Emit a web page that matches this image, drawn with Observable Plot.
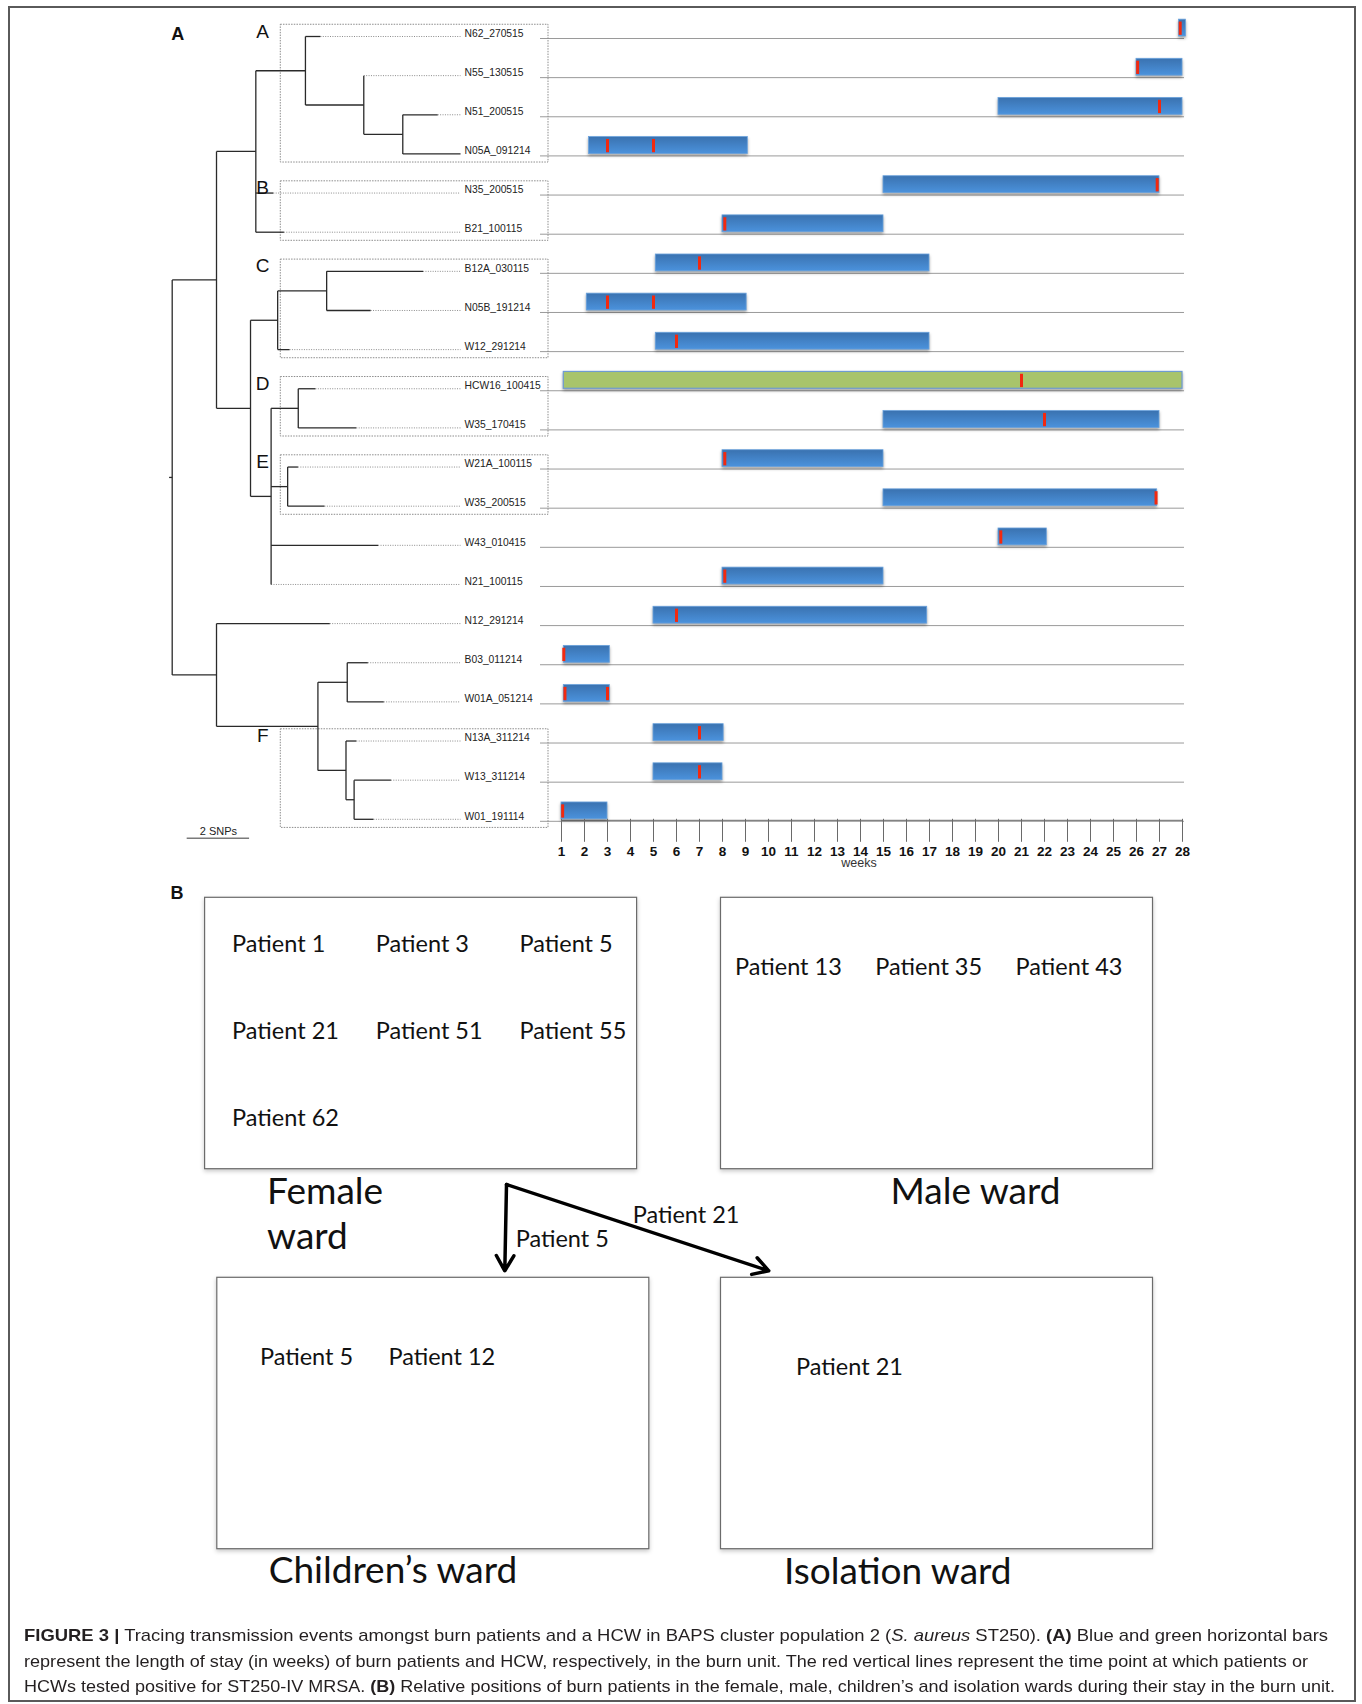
<!DOCTYPE html>
<html>
<head>
<meta charset="utf-8">
<script src="https://cdn.jsdelivr.net/npm/d3@7"></script>
<script src="https://cdn.jsdelivr.net/npm/@observablehq/plot@0.6"></script>
<style>
  body { margin: 0; background: #fff; }
  #fig { position: relative; width: 1362px; height: 1704px; background: #fff; overflow: hidden;
         font-family: "Liberation Sans", Arial, sans-serif; }
  .abs { position: absolute; left: 0; top: 0; }
  .plabel { position: absolute; font-weight: bold; font-size: 18px; line-height: 1; color: #111;
            transform: translate(-50%, -50%); }
  .cap { position: absolute; left: 24px; white-space: nowrap; font-size: 17px; line-height: 20px;
         color: #231f20; transform-origin: 0 50%; }
</style>
</head>
<body>
<div id="fig">
  <div id="frame" style="position:absolute;left:8px;top:6px;width:1348px;height:1696px;border:2px solid #5a5a5a;box-sizing:border-box;"></div>
  <div id="timeline" class="abs"></div>
  <div id="tree" class="abs"></div>
  <div id="wards" class="abs" style="top:860px"></div>
  <div class="plabel" style="left:177.7px;top:34.3px">A</div>
  <div class="plabel" style="left:177px;top:893px">B</div>
</div>
<script>
// ---------------- DATA (panel A) ----------------
const strains = ["N62_270515","N55_130515","N51_200515","N05A_091214","N35_200515","B21_100115",
  "B12A_030115","N05B_191214","W12_291214","HCW16_100415","W35_170415","W21A_100115","W35_200515",
  "W43_010415","N21_100115","N12_291214","B03_011214","W01A_051214","N13A_311214","W13_311214","W01_191114"];
// length of stay in the burn unit (weeks)
const stayStart = [27.85, 26, 20, 2.2, 15, 8, 5.1, 2.1, 5.1, 1.1, 15, 8, 15, 20, 8, 5, 1.1, 1.1, 5, 5, 1];
const stayEnd   = [28.15, 28, 28, 9.1, 27, 15, 17, 9.05, 17, 28, 27, 15, 26.9, 22.1, 15, 16.9, 3.1, 3.1, 8.05, 8, 3];
const hcwStrains = ["HCW16_100415"];
// time points of positive ST250-IV MRSA tests
const positiveStrain = ["N62_270515","N55_130515","N51_200515","N05A_091214","N05A_091214","N35_200515",
  "B21_100115","B12A_030115","N05B_191214","N05B_191214","W12_291214","HCW16_100415","W35_170415",
  "W21A_100115","W35_200515","W43_010415","N21_100115","N12_291214","B03_011214","W01A_051214",
  "W01A_051214","N13A_311214","W13_311214","W01_191114"];
const positiveWeek = [27.9, 26.05, 27, 3, 5, 26.9, 8.1, 7, 3, 5, 6, 21, 22, 8.1, 26.85, 20.1, 8.1, 6,
  1.1, 1.15, 3, 7, 7, 1.05];
const weekTicks = [1,2,3,4,5,6,7,8,9,10,11,12,13,14,15,16,17,18,19,20,21,22,23,24,25,26,27,28];
// phylogeny (branch lengths in SNPs)
const newick = "(((((N62_270515:0.48,(N55_130515:0,(N51_200515:1.12,N05A_091214:1.85):1.25):1.87):1.59," +
  "N35_200515:0.56,B21_100115:0.90):1.26,(((B12A_030115:3.09,N05B_191214:1.41):1.57,W12_291214:0.38):0.87," +
  "((HCW16_100415:0.55,W35_170415:1.86):0.87,(W21A_100115:0.33,W35_200515:1.18):0.53,W43_010415:3.43," +
  "N21_100115:0):0.66):1.09):1.42,(N12_291214:3.63,((B03_011214:0.66,W01A_051214:1.17):0.94," +
  "(N13A_311214:0.33,(W13_311214:1.18,W01_191114:0.62):0.26):0.90):3.25):1.42);";
const cladeNames = ["A","B","C","D","E","F"];
const cladeFirst = ["N62_270515","N35_200515","B12A_030115","HCW16_100415","W21A_100115","N13A_311214"];
const cladeLast  = ["N05A_091214","B21_100115","W12_291214","W35_170415","W35_200515","W01_191114"];
const scaleBarSNPs = 2;

// ---------------- DATA (panel B) ----------------
const wardNames  = ["Female ward","Male ward","Children’s ward","Isolation ward"];
const wardTitles = ["Female\nward","Male ward","Children’s ward","Isolation ward"];
const wardPatients = [
  ["Patient 1","Patient 3","Patient 5","Patient 21","Patient 51","Patient 55","Patient 62"],
  ["Patient 13","Patient 35","Patient 43"],
  ["Patient 5","Patient 12"],
  ["Patient 21"]
];
const transferFrom = ["Female ward","Female ward"];
const transferTo = ["Children’s ward","Isolation ward"];
const transferPatient = ["Patient 5","Patient 21"];

// ---------------- PANEL A: timeline ----------------
const rowOf = new Map(strains.map((s, i) => [s, i]));
const stays = strains.map((s, i) => ({strain: s, row: i, start: stayStart[i], end: stayEnd[i], hcw: hcwStrains.includes(s)}));
const positives = positiveStrain.map((s, i) => ({strain: s, row: rowOf.get(s), week: positiveWeek[i]}));
const svgNS = "http://www.w3.org/2000/svg";

const common = {width: 1362, height: 880, marginTop: 36, marginBottom: 61.2};
const timeline = Plot.plot({
  ...common,
  marginLeft: 561, marginRight: 180,
  x: {domain: [1, 28]},
  y: {domain: [0, strains.length - 1], reverse: true, axis: null},
  style: {background: "transparent", fontFamily: "Liberation Sans, Arial, sans-serif", overflow: "visible"},
  marks: [
    () => {
      const defs = document.createElementNS(svgNS, "defs");
      defs.innerHTML = `<linearGradient id="blueGrad" x1="0" y1="0" x2="0" y2="1">
          <stop offset="0" stop-color="#3a72b0"/><stop offset="1" stop-color="#4b92dc"/></linearGradient>`;
      return defs;
    },
    Plot.ruleY(stays, {y: "row", dy: 2, insetLeft: -21, insetRight: -2, stroke: "#9a9a9a", strokeWidth: 1}),
    Plot.ruleY([strains.length - 1], {x1: 1, x2: 28, dy: 1, stroke: "#6a6a6a", strokeWidth: 1}),
    Plot.rect(stays.filter(d => !d.hcw), {x1: "start", x2: "end", y1: d => d.row - 0.43, y2: "row",
      fill: "url(#blueGrad)", stroke: "#6aa2dd", strokeWidth: 0.8}),
    Plot.rect(stays.filter(d => d.hcw), {x1: "start", x2: "end", y1: d => d.row - 0.43, y2: "row",
      fill: "#a8c46b", stroke: "#6f9bd2", strokeWidth: 1.2}),
    Plot.ruleX(positives, {x: "week", y1: d => d.row - 0.37, y2: d => d.row - 0.03, stroke: "#f2290f", strokeWidth: 3}),
    Plot.axisX(weekTicks, {tickSize: 23, tickPadding: 4, tickFormat: d => String(d), label: null,
      fontSize: 13.5, fontWeight: "bold", fontFamily: "Liberation Sans Narrow, Liberation Sans, Arial, sans-serif",
      stroke: "#6a6a6a", fill: "#111"}),
    Plot.text(["weeks"], {text: d => d, frameAnchor: "bottom", dx: -13, dy: 48, fontSize: 12.5, fill: "#333"})
  ]
});
document.getElementById("timeline").appendChild(timeline);
d3.select(timeline).selectAll('g[aria-label="rect"]').style("filter", "drop-shadow(0px 2px 1.5px rgba(0,0,0,0.35))");

// ---------------- PANEL A: tree ----------------
function parseNewick(s) {
  let i = 0;
  function node() {
    const n = {children: []};
    if (s[i] === "(") {
      i++;
      n.children.push(node());
      while (s[i] === ",") { i++; n.children.push(node()); }
      i++;
    }
    let name = "";
    while (i < s.length && !",():;".includes(s[i])) name += s[i++];
    n.name = name;
    let len = "";
    if (s[i] === ":") { i++; while (i < s.length && !",();".includes(s[i])) len += s[i++]; }
    n.length = len === "" ? 0 : +len;
    return n;
  }
  return node();
}
const treeRoot = parseNewick(newick);
const leaves = [], segments = [];
(function layout(n, x0) {
  n.x = x0 + n.length;
  if (!n.children.length) { n.y = rowOf.get(n.name); leaves.push(n); return; }
  n.children.forEach(c => layout(c, n.x));
  const f = n.children[0], l = n.children[n.children.length - 1];
  n.y = (f.y + l.y) / 2;
  segments.push({x1: n.x, y1: f.y, x2: n.x, y2: l.y});
  n.children.forEach(c => segments.push({x1: n.x, y1: c.y, x2: c.x, y2: c.y}));
})(treeRoot, -treeRoot.length);
segments.push({x1: treeRoot.x - 0.1, y1: treeRoot.y, x2: treeRoot.x, y2: treeRoot.y});

const LEADER_END = 9.24, LABEL_X = 9.37, BOX_X = [3.48, 12.06], LETTER_X = 2.9;
const leaders = leaves.map(n => ({x1: n.x, x2: LEADER_END, y: n.y}));
const clades = cladeNames.map((c, i) => ({name: c, first: rowOf.get(cladeFirst[i]), last: rowOf.get(cladeLast[i])}));

const tree = Plot.plot({
  ...common,
  marginLeft: 171.7, marginRight: 814,
  x: {domain: [0, BOX_X[1]], axis: null},
  y: {domain: [0, strains.length - 1], reverse: true, axis: null},
  style: {background: "transparent", fontFamily: "Liberation Sans, Arial, sans-serif", overflow: "visible"},
  marks: [
    Plot.rect(clades, {x1: BOX_X[0], x2: BOX_X[1], y1: d => d.first - 0.3, y2: d => d.last + 0.22,
      fill: "none", stroke: "#8c8c8c", strokeWidth: 1, strokeDasharray: "1.5,1.2"}),
    Plot.link(leaders, {x1: "x1", x2: "x2", y1: "y", y2: "y", stroke: "#8c8c8c", strokeWidth: 1, strokeDasharray: "1,1.4"}),
    Plot.link(segments, {x1: "x1", y1: "y1", x2: "x2", y2: "y2", stroke: "#2a2a2a", strokeWidth: 1.3}),
    Plot.text(leaves, {x: LABEL_X, y: "y", text: "name", textAnchor: "start", dy: -3, fontSize: 10.3, fill: "#222"}),
    Plot.text(clades, {x: LETTER_X, y: "first", text: "name", dy: -5, fontSize: 19, fill: "#111"}),
    Plot.ruleY([strains.length - 1], {x1: 0.48, x2: 0.48 + scaleBarSNPs, dy: 19, stroke: "#7a7a7a", strokeWidth: 1.5}),
    Plot.text([`${scaleBarSNPs} SNPs`], {text: d => d, x: 0.48 + scaleBarSNPs / 2, y: strains.length - 1, dy: 12, fontSize: 11, fill: "#222"})
  ]
});
document.getElementById("tree").appendChild(tree);

// ---------------- PANEL B: wards ----------------
const PX = 474, PY = 380, COL_STEP = 1.0884, BOX_W = 0.9114, BOX_H = 0.7142;
const wardLayout = {
  "Female ward":     {col: 0, row: 0, dx: 0,    inset: [27, 46.7],  gap: [143.7, 86.9], label: [62, 2],    out: [301.4, 15.3]},
  "Male ward":       {col: 1, row: 0, dx: 0,    inset: [14, 69.4],  gap: [140.3, 86.9], label: [169.5, 2]},
  "Children’s ward": {col: 0, row: 1, dx: 12.2, inset: [42.6, 80],  gap: [128.5, 86.9], label: [51.4, 1]},
  "Isolation ward":  {col: 1, row: 1, dx: 0,    inset: [75.1, 90],  gap: [140, 86.9],   label: [63, 2.6]}
};
wardLayout["Children’s ward"].in = [287.5, -7];
wardLayout["Isolation ward"].in = [47.8, -7];
const boxes = wardNames.map((w, i) => {
  const L = wardLayout[w];
  const x1 = L.col * COL_STEP + L.dx / PX;
  return {ward: w, title: wardTitles[i], x1, x2: x1 + BOX_W, y1: L.row, y2: L.row + BOX_H, L};
});
const boxOf = new Map(boxes.map(b => [b.ward, b]));
const patientTexts = boxes.flatMap((b, i) => wardPatients[i].map((p, k) => ({
  text: p,
  x: b.x1 + (b.L.inset[0] + (k % 3) * b.L.gap[0]) / PX,
  y: b.y1 + (b.L.inset[1] + Math.floor(k / 3) * b.L.gap[1]) / PY
})));
const titles = boxes.map(b => ({text: b.title, x: b.x1 + b.L.label[0] / PX, y: b.y2 + b.L.label[1] / PY}));
const transfers = transferPatient.map((p, i) => {
  const a = boxOf.get(transferFrom[i]), b = boxOf.get(transferTo[i]);
  const x1 = a.x1 + a.L.out[0] / PX, y1 = a.y2 + a.L.out[1] / PY;
  const x2 = b.x1 + b.L.in[0] / PX, y2 = b.y1 + b.L.in[1] / PY;
  const vertical = Math.abs(x2 - x1) * PX < 20;
  return {patient: p, x1, y1, x2, y2,
    lx: (x1 + x2) / 2 + (vertical ? 10 : -5) / PX,
    ly: (y1 + y2) / 2 + (vertical ? 12 : -12) / PY};
});

const wards = Plot.plot({
  width: 1362, height: 760,
  marginLeft: 204.6, marginRight: 209.4, marginTop: 37.3, marginBottom: 71.3,
  x: {domain: [0, 2], axis: null},
  y: {domain: [0, 1 + BOX_H], reverse: true, axis: null},
  style: {background: "transparent", fontFamily: "Lato, 'Open Sans', sans-serif", overflow: "visible"},
  marks: [
    Plot.rect(boxes, {x1: "x1", x2: "x2", y1: "y1", y2: "y2", fill: "white", stroke: "#6b6b6b", strokeWidth: 1.2}),
    Plot.text(patientTexts, {x: "x", y: "y", text: "text", textAnchor: "start", fontSize: 23.5, fill: "#111"}),
    Plot.text(titles, {x: "x", y: "y", text: "text", textAnchor: "start", lineAnchor: "top", lineHeight: 1.23, fontSize: 37, fill: "#111"}),
    Plot.arrow(transfers, {x1: "x1", y1: "y1", x2: "x2", y2: "y2", stroke: "#000", strokeWidth: 3.5, headLength: 7.5}),
    Plot.text(transfers, {x: "lx", y: "ly", text: "patient", textAnchor: "start", fontSize: 23.5, fill: "#111"})
  ]
});
document.getElementById("wards").appendChild(wards);
d3.select(wards).selectAll('g[aria-label="rect"]').style("filter", "drop-shadow(0px 2px 2px rgba(0,0,0,0.22))");

// ---------------- caption ----------------
const fig = document.getElementById("fig");
const capLines = [
  `<b>FIGURE 3 |</b> Tracing transmission events amongst burn patients and a HCW in BAPS cluster population 2 (<i>S. aureus</i> ST250). <b>(A)</b> Blue and green horizontal bars`,
  `represent the length of stay (in weeks) of burn patients and HCW, respectively, in the burn unit. The red vertical lines represent the time point at which patients or`,
  `HCWs tested positive for ST250-IV MRSA. <b>(B)</b> Relative positions of burn patients in the female, male, children’s and isolation wards during their stay in the burn unit.`
];
const capY = [1636, 1662, 1687], capW = [1304, 1284, 1311];
capLines.forEach((html, i) => {
  const div = document.createElement("div");
  div.className = "cap";
  div.innerHTML = html;
  div.style.top = (capY[i] - 10) + "px";
  fig.appendChild(div);
  const w = div.getBoundingClientRect().width;
  div.style.transform = `scaleX(${capW[i] / w})`;
});
</script>
</body>
</html>
